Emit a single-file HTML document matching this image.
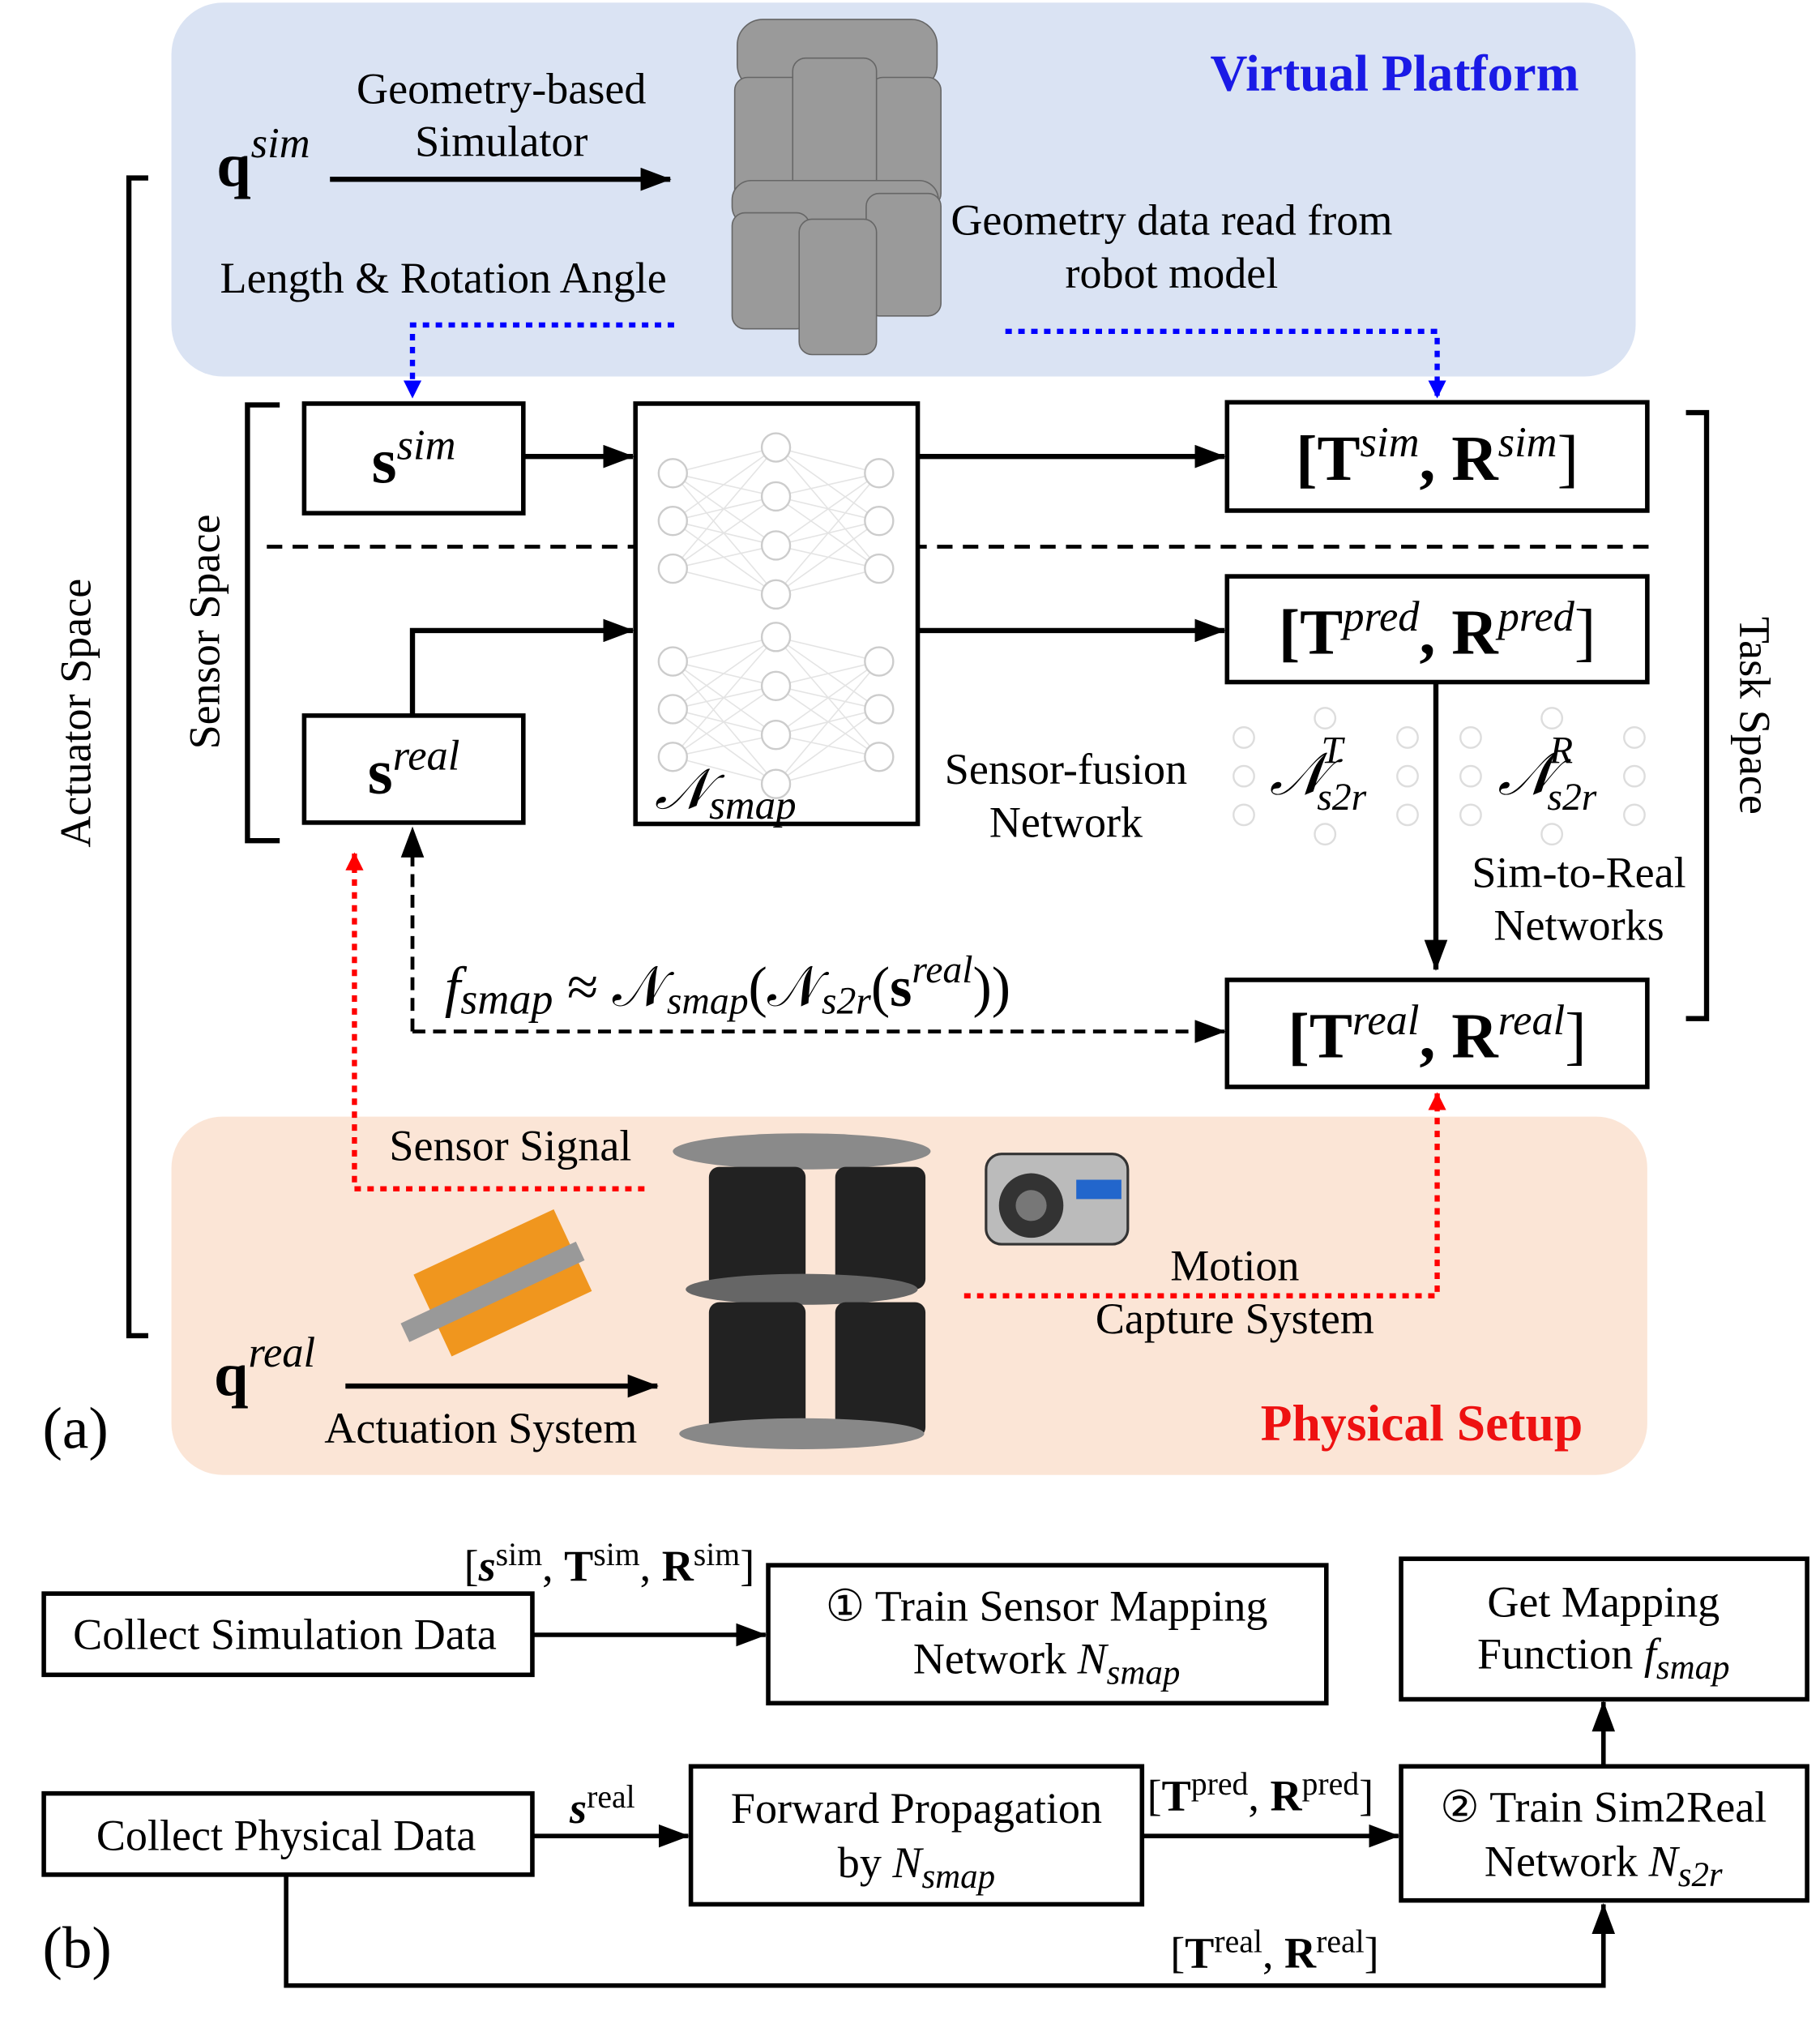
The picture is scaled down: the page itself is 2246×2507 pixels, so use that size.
<!DOCTYPE html>
<html><head><meta charset="utf-8"><style>html,body{margin:0;padding:0;background:#fff}svg{display:block}text{font-family:"Liberation Serif",serif;fill:#000}</style></head><body>
<svg width="2246" height="2507" viewBox="0 0 1412 1576" xmlns="http://www.w3.org/2000/svg">
<defs>
<marker id="ab" markerWidth="14" markerHeight="14" refX="13" refY="7" orient="auto" markerUnits="userSpaceOnUse" viewBox="0 0 14 14"><path d="M0,0L14,7L0,14z" fill="#00f"/></marker>
<marker id="ar" markerWidth="14" markerHeight="14" refX="13" refY="7" orient="auto" markerUnits="userSpaceOnUse" viewBox="0 0 14 14"><path d="M0,0L14,7L0,14z" fill="#f00"/></marker>
<marker id="ak" markerWidth="24" markerHeight="18" refX="23" refY="9" orient="auto" markerUnits="userSpaceOnUse" viewBox="0 0 24 18"><path d="M0,0L24,9L0,18z" fill="#000"/></marker>
</defs>
<rect x="133" y="2" width="1136" height="290" rx="40" fill="#dae3f3"/>
<rect x="133" y="866" width="1145" height="278" rx="40" fill="#fbe5d6"/>
<text x="1082" y="70" text-anchor="middle" font-size="40" font-weight="bold" style="fill:#1a1ae6">Virtual Platform</text>
<text x="1103" y="1117" text-anchor="middle" font-size="40" font-weight="bold" style="fill:#ee1111">Physical Setup</text>
<text x="168" y="144" font-size="48" font-weight="bold">q<tspan font-size="33" font-style="italic" font-weight="normal" dy="-22">sim</tspan></text>
<text x="389" y="80" text-anchor="middle" font-size="34">Geometry-based</text>
<text x="389" y="121" text-anchor="middle" font-size="34">Simulator</text>
<line x1="256" y1="139" x2="520" y2="139" stroke="#000" stroke-width="4" marker-end="url(#ak)"/>
<text x="344" y="227" text-anchor="middle" font-size="34">Length &amp; Rotation Angle</text>
<g fill="#9a9a9a" stroke="#666" stroke-width="1">
<rect x="572" y="15" width="155" height="55" rx="20"/>
<rect x="570" y="60" width="58" height="100" rx="10"/><rect x="675" y="60" width="55" height="100" rx="10"/>
<rect x="615" y="45" width="65" height="120" rx="10"/>
<rect x="568" y="140" width="160" height="35" rx="15"/>
<rect x="568" y="165" width="60" height="90" rx="10"/><rect x="672" y="150" width="58" height="95" rx="10"/>
<rect x="620" y="170" width="60" height="105" rx="10"/>
</g>
<text x="909" y="182" text-anchor="middle" font-size="34">Geometry data read from</text>
<text x="909" y="223" text-anchor="middle" font-size="34">robot model</text>
<polyline points="523,252 320,252 320,308" fill="none" stroke="#00f" stroke-width="4" stroke-dasharray="5,5" marker-end="url(#ab)"/>
<polyline points="780,257 1115,257 1115,308" fill="none" stroke="#00f" stroke-width="4" stroke-dasharray="5,5" marker-end="url(#ab)"/>
<polyline points="115,138 100,138 100,1036 115,1036" fill="none" stroke="#000" stroke-width="4"/>
<text transform="translate(70,553) rotate(-90)" text-anchor="middle" font-size="34">Actuator Space</text>
<polyline points="217,314 192,314 192,652 217,652" fill="none" stroke="#000" stroke-width="4"/>
<text transform="translate(170,490) rotate(-90)" text-anchor="middle" font-size="34">Sensor Space</text>
<polyline points="1308,320 1324,320 1324,790 1308,790" fill="none" stroke="#000" stroke-width="4"/>
<text transform="translate(1350,555) rotate(90)" text-anchor="middle" font-size="34">Task Space</text>
<line x1="207" y1="424" x2="1283" y2="424" stroke="#000" stroke-width="3" stroke-dasharray="12,8"/>
<g fill="#fff" stroke="#000" stroke-width="3.5">
<rect x="236" y="313" width="170" height="85"/><rect x="236" y="555" width="170" height="83"/>
<rect x="493" y="313" width="219" height="326"/>
<rect x="952" y="312" width="326" height="84"/><rect x="952" y="447" width="326" height="82"/><rect x="952" y="760" width="326" height="83"/>
</g>
<g stroke="#e4e4e4" stroke-width="1">
<path d="M522,367L602,347M522,367L602,385M522,367L602,423M522,367L602,461M522,404L602,347M522,404L602,385M522,404L602,423M522,404L602,461M522,441L602,347M522,441L602,385M522,441L602,423M522,441L602,461M682,367L602,347M682,367L602,385M682,367L602,423M682,367L602,461M682,404L602,347M682,404L602,385M682,404L602,423M682,404L602,461M682,441L602,347M682,441L602,385M682,441L602,423M682,441L602,461"/>
<path d="M522,513L602,494M522,513L602,532M522,513L602,570M522,513L602,608M522,550L602,494M522,550L602,532M522,550L602,570M522,550L602,608M522,587L602,494M522,587L602,532M522,587L602,570M522,587L602,608M682,513L602,494M682,513L602,532M682,513L602,570M682,513L602,608M682,550L602,494M682,550L602,532M682,550L602,570M682,550L602,608M682,587L602,494M682,587L602,532M682,587L602,570M682,587L602,608"/>
</g>
<g fill="#fff" stroke="#ccc" stroke-width="1.5">
<circle cx="522" cy="367" r="11"/><circle cx="522" cy="404" r="11"/><circle cx="522" cy="441" r="11"/>
<circle cx="602" cy="347" r="11"/><circle cx="602" cy="385" r="11"/><circle cx="602" cy="423" r="11"/><circle cx="602" cy="461" r="11"/>
<circle cx="682" cy="367" r="11"/><circle cx="682" cy="404" r="11"/><circle cx="682" cy="441" r="11"/>
<circle cx="522" cy="513" r="11"/><circle cx="522" cy="550" r="11"/><circle cx="522" cy="587" r="11"/>
<circle cx="602" cy="494" r="11"/><circle cx="602" cy="532" r="11"/><circle cx="602" cy="570" r="11"/><circle cx="602" cy="608" r="11"/>
<circle cx="682" cy="513" r="11"/><circle cx="682" cy="550" r="11"/><circle cx="682" cy="587" r="11"/>
</g>
<text x="321" y="374" text-anchor="middle" font-size="50" font-weight="bold">s<tspan font-size="33" font-style="italic" font-weight="normal" dy="-18">sim</tspan></text>
<text x="321" y="615" text-anchor="middle" font-size="50" font-weight="bold">s<tspan font-size="33" font-style="italic" font-weight="normal" dy="-18">real</tspan></text>
<text x="508" y="627" font-size="44" font-style="italic">𝒩<tspan font-size="32" dy="8">smap</tspan></text>
<text x="1115" y="372" text-anchor="middle" font-size="50" font-weight="bold">[T<tspan font-size="33" font-style="italic" font-weight="normal" dy="-18">sim</tspan><tspan dy="18">, R</tspan><tspan font-size="33" font-style="italic" font-weight="normal" dy="-18">sim</tspan><tspan dy="18" font-weight="normal">]</tspan></text>
<text x="1115" y="507" text-anchor="middle" font-size="50" font-weight="bold">[T<tspan font-size="33" font-style="italic" font-weight="normal" dy="-18">pred</tspan><tspan dy="18">, R</tspan><tspan font-size="33" font-style="italic" font-weight="normal" dy="-18">pred</tspan><tspan dy="18" font-weight="normal">]</tspan></text>
<text x="1115" y="820" text-anchor="middle" font-size="50" font-weight="bold">[T<tspan font-size="33" font-style="italic" font-weight="normal" dy="-18">real</tspan><tspan dy="18">, R</tspan><tspan font-size="33" font-style="italic" font-weight="normal" dy="-18">real</tspan><tspan dy="18" font-weight="normal">]</tspan></text>
<g stroke="#000" stroke-width="4" fill="none">
<line x1="406" y1="354" x2="491" y2="354" marker-end="url(#ak)"/>
<line x1="712" y1="354" x2="950" y2="354" marker-end="url(#ak)"/>
<line x1="712" y1="489" x2="950" y2="489" marker-end="url(#ak)"/>
<polyline points="320,555 320,489 491,489" marker-end="url(#ak)"/>
<line x1="1114" y1="529" x2="1114" y2="752" marker-end="url(#ak)"/>
</g>
<g stroke="#000" stroke-width="3" fill="none" stroke-dasharray="10,6">
<line x1="320" y1="800" x2="320" y2="642" marker-end="url(#ak)"/>
<line x1="320" y1="800" x2="950" y2="800" marker-end="url(#ak)"/>
</g>
<text x="345" y="780" font-size="44" font-style="italic">f<tspan font-size="34" dy="6">smap</tspan><tspan dy="-6" font-style="normal"> ≈ 𝒩</tspan><tspan font-size="30" dy="6">smap</tspan><tspan dy="-6" font-style="normal">(𝒩</tspan><tspan font-size="30" dy="6">s2r</tspan><tspan dy="-6" font-style="normal">(</tspan><tspan font-style="normal" font-weight="bold">s</tspan><tspan font-size="30" dy="-18">real</tspan><tspan dy="18" font-style="normal">))</tspan></text>
<text x="827" y="608" text-anchor="middle" font-size="34">Sensor-fusion</text>
<text x="827" y="649" text-anchor="middle" font-size="34">Network</text>
<g fill="none" stroke="#ddd" stroke-width="1.5">
<circle cx="965" cy="572" r="8"/><circle cx="965" cy="602" r="8"/><circle cx="965" cy="632" r="8"/><circle cx="1028" cy="557" r="8"/><circle cx="1028" cy="647" r="8"/><circle cx="1092" cy="572" r="8"/><circle cx="1092" cy="602" r="8"/><circle cx="1092" cy="632" r="8"/>
<circle cx="1141" cy="572" r="8"/><circle cx="1141" cy="602" r="8"/><circle cx="1141" cy="632" r="8"/><circle cx="1204" cy="557" r="8"/><circle cx="1204" cy="647" r="8"/><circle cx="1268" cy="572" r="8"/><circle cx="1268" cy="602" r="8"/><circle cx="1268" cy="632" r="8"/>
</g>
<text x="985" y="616" font-size="46" font-style="italic">𝒩<tspan font-size="30" dx="-4" dy="-24">T</tspan><tspan font-size="30" dx="-20" dy="36">s2r</tspan></text>
<text x="1162" y="616" font-size="46" font-style="italic">𝒩<tspan font-size="30" dx="-4" dy="-24">R</tspan><tspan font-size="30" dx="-20" dy="36">s2r</tspan></text>
<text x="1225" y="688" text-anchor="middle" font-size="34">Sim-to-Real</text>
<text x="1225" y="729" text-anchor="middle" font-size="34">Networks</text>
<polyline points="500,922 275,922 275,662" fill="none" stroke="#f00" stroke-width="4" stroke-dasharray="5,5" marker-end="url(#ar)"/>
<polyline points="748,1005 1115,1005 1115,848" fill="none" stroke="#f00" stroke-width="4" stroke-dasharray="5,5" marker-end="url(#ar)"/>
<text x="396" y="900" text-anchor="middle" font-size="34">Sensor Signal</text>
<text x="958" y="993" text-anchor="middle" font-size="34">Motion</text>
<text x="958" y="1034" text-anchor="middle" font-size="34">Capture System</text>
<g fill="#222">
<ellipse cx="622" cy="893" rx="100" ry="14" fill="#8a8a8a"/>
<rect x="550" y="905" width="75" height="95" rx="8"/><rect x="648" y="905" width="70" height="95" rx="8"/>
<ellipse cx="622" cy="1000" rx="90" ry="12" fill="#666"/>
<rect x="550" y="1010" width="75" height="105" rx="8"/><rect x="648" y="1010" width="70" height="105" rx="8"/>
<ellipse cx="622" cy="1112" rx="95" ry="12" fill="#888"/>
</g>
<g><rect x="765" y="895" width="110" height="70" rx="12" fill="#bbb" stroke="#333" stroke-width="2"/><circle cx="800" cy="935" r="25" fill="#333"/><circle cx="800" cy="935" r="12" fill="#777"/><rect x="835" y="915" width="35" height="15" fill="#2266cc"/></g>
<g><rect x="330" y="960" width="120" height="70" fill="#f0961e" transform="rotate(-25 390 995)"/><rect x="305" y="990" width="150" height="16" fill="#999" transform="rotate(-25 390 995)"/></g>
<text x="166" y="1082" font-size="48" font-weight="bold">q<tspan font-size="33" font-style="italic" font-weight="normal" dy="-22">real</tspan></text>
<line x1="268" y1="1075" x2="510" y2="1075" stroke="#000" stroke-width="4" marker-end="url(#ak)"/>
<text x="373" y="1119" text-anchor="middle" font-size="34">Actuation System</text>
<text x="33" y="1123" font-size="46">(a)</text>
<g fill="none" stroke="#000" stroke-width="3.5">
<rect x="34" y="1236" width="379" height="63"/><rect x="596" y="1214" width="433" height="107"/><rect x="1087" y="1209" width="315" height="109"/>
<rect x="34" y="1391" width="379" height="63"/><rect x="536" y="1370" width="350" height="107"/><rect x="1087" y="1370" width="315" height="104"/>
<line x1="413" y1="1268" x2="594" y2="1268" marker-end="url(#ak)"/>
<line x1="413" y1="1424" x2="534" y2="1424" marker-end="url(#ak)"/>
<line x1="886" y1="1424" x2="1085" y2="1424" marker-end="url(#ak)"/>
<line x1="1244" y1="1370" x2="1244" y2="1320" marker-end="url(#ak)"/>
<polyline points="222,1454 222,1540 1244,1540 1244,1477" marker-end="url(#ak)"/>
</g>
<text x="221" y="1279" text-anchor="middle" font-size="34">Collect Simulation Data</text>
<text x="360" y="1226" font-size="34">[<tspan font-weight="bold" font-style="italic">s</tspan><tspan font-size="25" dy="-12">sim</tspan><tspan dy="12">, </tspan><tspan font-weight="bold">T</tspan><tspan font-size="25" dy="-12">sim</tspan><tspan dy="12">, </tspan><tspan font-weight="bold">R</tspan><tspan font-size="25" dy="-12">sim</tspan><tspan dy="12">]</tspan></text>
<text x="812" y="1257" text-anchor="middle" font-size="34">① Train Sensor Mapping</text>
<text x="812" y="1298" text-anchor="middle" font-size="34">Network <tspan font-style="italic">N</tspan><tspan font-size="27" font-style="italic" dy="8">smap</tspan></text>
<text x="1244" y="1254" text-anchor="middle" font-size="34">Get Mapping</text>
<text x="1244" y="1294" text-anchor="middle" font-size="34">Function <tspan font-style="italic">f</tspan><tspan font-size="27" font-style="italic" dy="8">smap</tspan></text>
<text x="222" y="1435" text-anchor="middle" font-size="34">Collect Physical Data</text>
<text x="442" y="1414" font-size="34"><tspan font-weight="bold" font-style="italic">s</tspan><tspan font-size="25" dy="-12">real</tspan></text>
<text x="711" y="1414" text-anchor="middle" font-size="34">Forward Propagation</text>
<text x="711" y="1456" text-anchor="middle" font-size="34">by <tspan font-style="italic">N</tspan><tspan font-size="27" font-style="italic" dy="8">smap</tspan></text>
<text x="890" y="1404" font-size="34">[<tspan font-weight="bold">T</tspan><tspan font-size="25" dy="-12">pred</tspan><tspan dy="12">, </tspan><tspan font-weight="bold">R</tspan><tspan font-size="25" dy="-12">pred</tspan><tspan dy="12">]</tspan></text>
<text x="1244" y="1413" text-anchor="middle" font-size="34">② Train Sim2Real</text>
<text x="1244" y="1455" text-anchor="middle" font-size="34">Network <tspan font-style="italic">N</tspan><tspan font-size="27" font-style="italic" dy="8">s2r</tspan></text>
<text x="908" y="1526" font-size="34">[<tspan font-weight="bold">T</tspan><tspan font-size="25" dy="-12">real</tspan><tspan dy="12">, </tspan><tspan font-weight="bold">R</tspan><tspan font-size="25" dy="-12">real</tspan><tspan dy="12">]</tspan></text>
<text x="33" y="1526" font-size="46">(b)</text>
</svg>
</body></html>
